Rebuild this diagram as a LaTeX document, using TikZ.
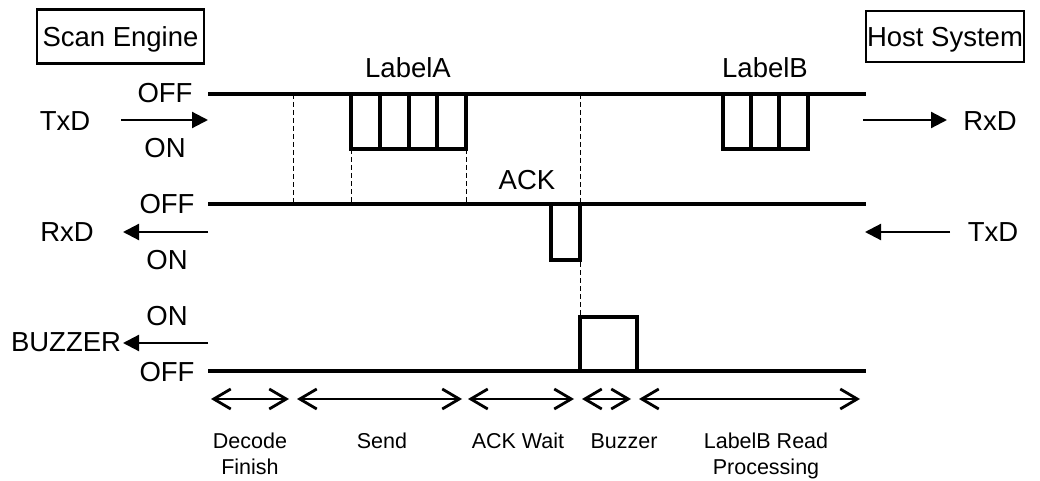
\documentclass[tikz,border=0pt]{standalone}
\usepackage{fontspec}
\setmainfont{Liberation Sans}
\usetikzlibrary{arrows.meta}
\begin{document}
\begin{tikzpicture}[x=1pt,y=-1pt,
  big/.style={font=\fontsize{27.5}{33}\selectfont, inner sep=0pt, text height=19.7pt, text depth=0pt},
  small/.style={font=\fontsize{21.5}{26}\selectfont, inner sep=0pt, text height=15.4pt, text depth=0pt},
  boxed/.style={big, draw, line width=2.4pt},
  wave/.style={line width=4pt},
  guide/.style={line width=1pt, dash pattern=on 5pt off 3pt},
  sig/.style={line width=2.2pt, -{Triangle[length=16pt,width=16pt]}},
  span/.style={line width=2pt, {Straight Barb[length=17pt,width=20pt,line width=2.8pt]}-{Straight Barb[length=17pt,width=20pt,line width=2.8pt]}}]
\useasboundingbox (0,0) rectangle (1040,481);

% header boxes
\node[boxed, minimum width=167pt, minimum height=54pt] (se) at (120.5,36.5) {Scan Engine};
\node[boxed, minimum width=158pt, minimum height=51pt] (hs) at (945,36.5) {Host System};

% level labels
\node[big] (off1) at (165,93) {OFF};
\node[big] (on1)  at (165,148) {ON};
\node[big] (off2) at (167,204) {OFF};
\node[big] (on2)  at (167,260) {ON};
\node[big] (on3)  at (167,316) {ON};
\node[big] (off3) at (167,372) {OFF};

% signal names
\node[big] (txdL) at (65,121) {TxD};
\node[big] (rxdL) at (67,232) {RxD};
\node[big] (buz)  at (66,342) {BUZZER};
\node[big] (rxdR) at (990,121) {RxD};
\node[big] (txdR) at (993,232) {TxD};

% pulse labels
\node[big] (la) at (408,68) {LabelA};
\node[big] (lb) at (765,68) {LabelB};
\node[big] (ack) at (527,180) {ACK};

% arrow end points
\coordinate (a1s) at (121,120); \coordinate (a1e) at (208,120);
\coordinate (a2s) at (208,232); \coordinate (a2e) at (123,232);
\coordinate (a3s) at (208,343); \coordinate (a3e) at (123,343);
\coordinate (a4s) at (863,120); \coordinate (a4e) at (947,120);
\coordinate (a5s) at (950,232); \coordinate (a5e) at (865,232);
\draw[sig] (a1s) -- (a1e);
\draw[sig] (a2s) -- (a2e);
\draw[sig] (a3s) -- (a3e);
\draw[sig] (a4s) -- (a4e);
\draw[sig] (a5s) -- (a5e);

% dashed guides
\draw[guide] (293,94) -- (293,204);
\draw[guide] (351,149) -- (351,204);
\draw[guide] (466,149) -- (466,204);
\draw[guide] (580,94) -- (580,317);

% waveform 1 (TxD)
\draw[wave] (208,94) -- (866,94);
\draw[wave] (351,94) -- (351,149) -- (466,149) -- (466,94);
\foreach \x in {380,409,437} \draw[wave] (\x,94) -- (\x,149);
\draw[wave] (723,94) -- (723,149) -- (808,149) -- (808,94);
\foreach \x in {751,779} \draw[wave] (\x,94) -- (\x,149);

% waveform 2 (RxD)
\draw[wave] (208,204) -- (866,204);
\draw[wave] (551,204) -- (551,260) -- (580,260) -- (580,204);

% waveform 3 (BUZZER)
\draw[wave] (208,371) -- (866,371);
\draw[wave] (580,371) -- (580,317) -- (637,317) -- (637,371);

% time spans
\coordinate (t0) at (211,399); \coordinate (t1) at (289,399);
\coordinate (t2) at (297,399); \coordinate (t3) at (462,399);
\coordinate (t4) at (468,399); \coordinate (t5) at (574,399);
\coordinate (t6) at (582,399); \coordinate (t7) at (631,399);
\coordinate (t8) at (639,399); \coordinate (t9) at (860,399);
\draw[span] (t0) -- (t1);
\draw[span] (t2) -- (t3);
\draw[span] (t4) -- (t5);
\draw[span] (t6) -- (t7);
\draw[span] (t8) -- (t9);

% span labels
\node[small] (dec) at (250,441) {Decode};
\node[small] (fin) at (250,467) {Finish};
\node[small] (snd) at (382,441) {Send};
\node[small] (aw)  at (518,441) {ACK Wait};
\node[small] (bz)  at (624,441) {Buzzer};
\node[small] (lbr) at (766,441) {LabelB Read};
\node[small] (prc) at (766,467) {Processing};
\end{tikzpicture}
\end{document}
